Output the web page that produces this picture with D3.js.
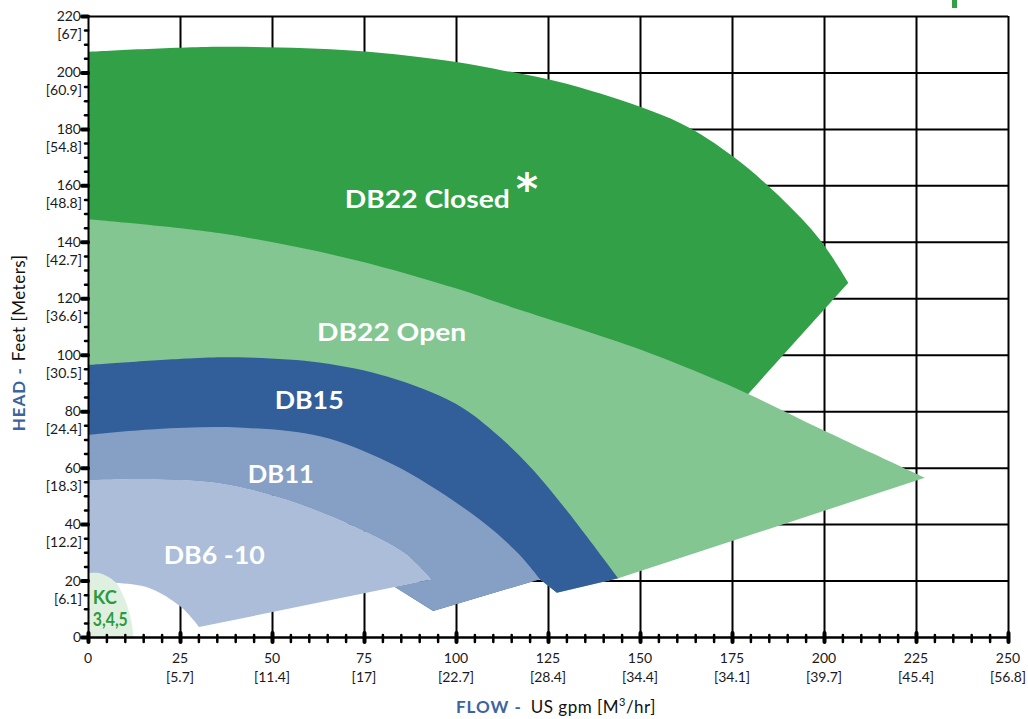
<!DOCTYPE html>
<html><head><meta charset="utf-8">
<script src="https://cdn.jsdelivr.net/npm/d3@7"></script>
<style>body{margin:0;background:#fff}svg{display:block}</style>
</head><body>
<svg id="chart" width="1028" height="719"></svg>
<script>
// ---------- data ----------
const flowTicks = [0,25,50,75,100,125,150,175,200,225,250];
const flowMetric = ["","[5.7]","[11.4]","[17]","[22.7]","[28.4]","[34.4]","[34.1]","[39.7]","[45.4]","[56.8]"];
const headTicks = [0,20,40,60,80,100,120,140,160,180,200,220];
const headMetric = ["","[6.1]","[12.2]","[18.3]","[24.4]","[30.5]","[36.6]","[42.7]","[48.8]","[54.8]","[60.9]","[67]"];

// curve boundaries [flow gpm, head ft]
const db22ClosedTop = [[0,207.3],[36,209.1],[72.5,207.7],[99.6,203.8],[112,200.9],[125,197.6],[139,192.6],[161,182],[175.3,170.2],[188.9,154.8],[199,140.6],[206.6,125.5]];
const db22ClosedEnd = [[206.6,125.5],[179.4,86.1],[144.1,20.8]];
const db22OpenTop = [[0,148],[36,143],[72.5,133.6],[99.7,123.6],[112,118.2],[148,102.8],[166.3,93.5],[179.4,86.1],[199.7,73.3],[227.4,56.4]];
const db22OpenEnd = [[227.4,56.4],[144.1,20.8],[127.4,15.7],[122.8,20.5]];
const db15Top = [[0,96.4],[27.2,98.7],[40.8,99.1],[63.3,97.2],[81.5,92.2],[99.7,82.8],[110,73],[120,60.5],[130,45],[144.1,20.8]];
const db15End = [[144.1,20.8],[127.4,15.7],[122.8,20.5],[93.8,9.2],[83.4,17.7],[93.3,20.4]];
const db11Top = [[0,71.6],[18.1,73.6],[40.8,74.2],[63.3,71],[81.5,62],[95,52],[108,40],[117,29.5],[122.8,20.5]];
const db11End = [[122.8,20.5],[93.8,9.2],[83.4,17.7],[93.3,20.4]];
const db6Top = [[0,55.6],[18.1,55.9],[36.2,54.4],[54.3,48.5],[72.5,39.1],[86.1,29.7],[93.3,20.4]];
const db6End = [[93.3,20.4],[30.2,3.5]];
const db6Bottom = [[30.2,3.5],[25.3,10.6],[16.8,17.3],[7.3,19.2],[0,19.5]];
const kcOutline = [[0,22.6],[3.2,22.6],[7.3,19.6],[10.1,13.1],[11.9,4.8],[12.3,0]];
const kcBase = [[12.3,0],[0,0]];

const regionNames = ["DB22 Closed","DB22 Open","DB15","DB11","DB6 -10","KC 3,4,5"];
const regionColors = ["#31a046","#83c692","#325f9a","#86a0c5","#abbdd8","#dff0e1"];

// label anchors [flow, head], visible width in px
const labels = [
  {text:"DB22 Closed", at:[92.2,151.9], w:165, size:25},
  {text:"DB22 Open",  at:[82.5,104.9], w:149, size:25},
  {text:"DB15",       at:[60.1,80.7],  w:69,  size:25},
  {text:"DB11",       at:[52.4,54.7],  w:66,  size:25},
  {text:"DB6 -10",    at:[34.3,25.8],  w:101, size:25}
];

// ---------- chart ----------
const svg = d3.select("#chart");
const x = d3.scaleLinear().domain([0,250]).range([88,1008]);
const y = d3.scaleLinear().domain([0,220]).range([637,16]);

// small green mark at top
svg.append("rect").attr("x",952).attr("y",0).attr("width",5).attr("height",8).attr("fill","#31a046");

// grid
const gx = svg.append("g").attr("transform",`translate(0,${y(0)})`)
  .call(d3.axisBottom(x).tickValues(flowTicks.slice(1)).tickSize(-(y(0)-y(220))).tickFormat(""));
gx.select(".domain").remove();
gx.selectAll("line").attr("stroke","#000").attr("stroke-width",2);
const gy = svg.append("g").attr("transform",`translate(${x(0)},0)`)
  .call(d3.axisLeft(y).tickValues(headTicks.slice(1)).tickSize(-(x(250)-x(0))).tickFormat(""));
gy.select(".domain").remove();
gy.selectAll("line").attr("stroke","#000").attr("stroke-width",2);

// region builder
const curveSmooth = d3.curveCatmullRom.alpha(0.5);
function buildPath(segments){
  let d = "";
  segments.forEach((s,i)=>{
    const gen = d3.line().x(p=>x(p[0])).y(p=>y(p[1])).curve(s.curve);
    let sd = gen(s.pts);
    if(i>0) sd = "L" + sd.slice(1);
    d += sd;
  });
  return d + "Z";
}
const rev = a => a.slice().reverse();
const regions = [
  [{pts:db22ClosedTop,curve:curveSmooth},{pts:db22ClosedEnd,curve:d3.curveLinear},{pts:rev(db15Top),curve:curveSmooth}],
  [{pts:db22OpenTop,curve:curveSmooth},{pts:db22OpenEnd,curve:d3.curveLinear},{pts:rev(db11Top),curve:curveSmooth}],
  [{pts:db15Top,curve:curveSmooth},{pts:db15End,curve:d3.curveLinear},{pts:rev(db6Top),curve:curveSmooth}],
  [{pts:db11Top,curve:curveSmooth},{pts:db11End,curve:d3.curveLinear},{pts:rev(db6Top),curve:curveSmooth}],
  [{pts:db6Top,curve:curveSmooth},{pts:db6End,curve:d3.curveLinear},{pts:db6Bottom,curve:curveSmooth}],
  [{pts:kcOutline,curve:curveSmooth},{pts:kcBase,curve:d3.curveLinear}]
];
svg.append("g").selectAll("path").data(regions).join("path")
  .attr("d",buildPath)
  .attr("fill",(d,i)=>regionColors[i])
  .attr("stroke","none");

// region labels
const font = "Lato, 'Open Sans', sans-serif";
svg.append("g").selectAll("text").data(labels).join("text")
  .attr("x",d=>x(d.at[0])).attr("y",d=>y(d.at[1]))
  .attr("text-anchor","middle")
  .attr("font-family",font).attr("font-weight",700).attr("font-size",d=>d.size)
  .attr("fill","#fff")
  .attr("textLength",d=>d.w).attr("lengthAdjust","spacingAndGlyphs")
  .text(d=>d.text);
svg.append("text").attr("x",x(119.3)).attr("y",y(150)-10)
  .attr("text-anchor","middle").attr("font-family","'DejaVu Sans', sans-serif")
  .attr("font-weight",700).attr("font-size",42).attr("fill","#fff").text("*");
svg.append("text").attr("x",x(1.3)).attr("y",y(11.6))
  .attr("font-family",font).attr("font-weight",700).attr("font-size",18).attr("fill","#2c9b3f")
  .attr("textLength",24).attr("lengthAdjust","spacingAndGlyphs").text("KC");
svg.append("text").attr("x",x(1.3)).attr("y",y(4))
  .attr("font-family",font).attr("font-weight",700).attr("font-size",18).attr("fill","#2c9b3f")
  .attr("textLength",35).attr("lengthAdjust","spacingAndGlyphs").text("3,4,5");

// axes with ticks every 5
const minorFlow = d3.range(0,251,5);
const minorHead = d3.range(0,221,5);
const ax = svg.append("g").attr("transform",`translate(0,${y(0)})`)
  .call(d3.axisBottom(x).tickValues(minorFlow).tickSize(4).tickFormat(""));
ax.select(".domain").attr("stroke","#000").attr("stroke-width",2.5);
ax.selectAll(".tick line")
  .attr("y1",d=>d%25===0?-4:-2).attr("y2",5)
  .attr("stroke","#000").attr("stroke-linecap","round")
  .attr("stroke-width",d=>d%25===0?4:2.5);
const ay = svg.append("g").attr("transform",`translate(${x(0)},0)`)
  .call(d3.axisLeft(y).tickValues(minorHead).tickSize(4).tickFormat(""));
ay.select(".domain").attr("stroke","#000").attr("stroke-width",2);
ay.selectAll(".tick line")
  .attr("x1",0).attr("x2",d=>d%20===0?-6:-3)
  .attr("stroke","#000").attr("stroke-linecap","round")
  .attr("stroke-width",d=>d%20===0?4:2.5);

// tick labels
const tickFont = "Lato, 'Open Sans', sans-serif";
const yl = svg.append("g").attr("font-family",tickFont).attr("font-size",14).attr("fill","#1a1a1a").attr("text-anchor","end");
headTicks.forEach((v,i)=>{
  yl.append("text").attr("x",81).attr("y",y(v)+5).text(v);
  if(headMetric[i]) yl.append("text").attr("x",82).attr("y",y(v)+23).text(headMetric[i]);
});
const xl = svg.append("g").attr("font-family",tickFont).attr("font-size",14).attr("fill","#1a1a1a").attr("text-anchor","middle");
flowTicks.forEach((v,i)=>{
  xl.append("text").attr("x",x(v)).attr("y",663).text(v);
  if(flowMetric[i]) xl.append("text").attr("x",x(v)).attr("y",682).text(flowMetric[i]);
});

// axis titles
const xt = svg.append("text").attr("x",456).attr("y",713)
  .attr("font-family",tickFont).attr("font-size",17).attr("fill","#111").attr("letter-spacing",0.5);
xt.append("tspan").attr("font-weight",700).attr("fill","#3b64a0").attr("letter-spacing",1).text("FLOW -");
xt.append("tspan").attr("dx",9).text("US gpm [M");
xt.append("tspan").attr("font-size",11).attr("dy",-7).text("3");
xt.append("tspan").attr("dy",7).text("/hr]");

const yt = svg.append("text").attr("transform","translate(25,343) rotate(-90)")
  .attr("text-anchor","middle")
  .attr("font-family",tickFont).attr("font-size",17).attr("fill","#111").attr("letter-spacing",0.5);
yt.append("tspan").attr("font-weight",700).attr("fill","#3b64a0").attr("letter-spacing",1).text("HEAD -");
yt.append("tspan").attr("dx",6).text("Feet [Meters]");
</script>
</body></html>
